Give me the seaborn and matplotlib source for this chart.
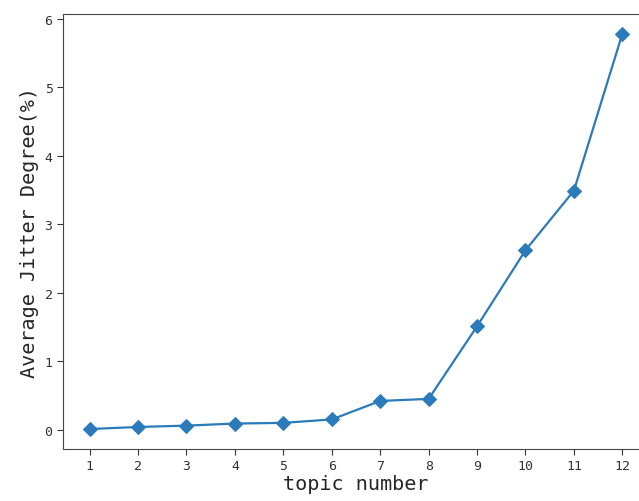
import numpy as np
import pandas as pd
import matplotlib
matplotlib.use('Agg')
import matplotlib.pyplot as plt
import seaborn as sns

# datos
topic_number = [1, 2, 3, 4, 5, 6, 7, 8, 9, 10, 11, 12]
jitter_degree = [0.01, 0.04, 0.06, 0.09, 0.10, 0.15, 0.42, 0.45, 1.51, 2.62, 3.49, 5.78]

df = pd.DataFrame({'topic': topic_number, 'jitter': jitter_degree})

sns.set_style('ticks')
plt.rcParams['font.family'] = ['DejaVu Sans Mono', 'Noto Sans CJK SC']

fig = plt.figure(figsize=(6.39, 5.02), dpi=100)
# el eje derecho queda fuera de la imagen, como en el original
ax = fig.add_axes([0.0986, 0.104, 0.917, 0.866])

sns.lineplot(data=df, x='topic', y='jitter', marker='D', markersize=7.5,
             color='#2b7bba', linewidth=1.6, markeredgecolor='#2b7bba', ax=ax)

ax.set_xticks(topic_number)
ax.set_yticks([0, 1, 2, 3, 4, 5, 6])
ax.tick_params(labelsize=9.5, colors='#333333', length=4)
ax.set_xlabel('topic number', fontsize=14.5, labelpad=1)
ax.set_ylabel('Average Jitter Degree(%)', fontsize=14.5)
for s in ax.spines.values():
    s.set_color('#444444')
    s.set_visible(True)

fig.savefig('out.png', dpi=100)
